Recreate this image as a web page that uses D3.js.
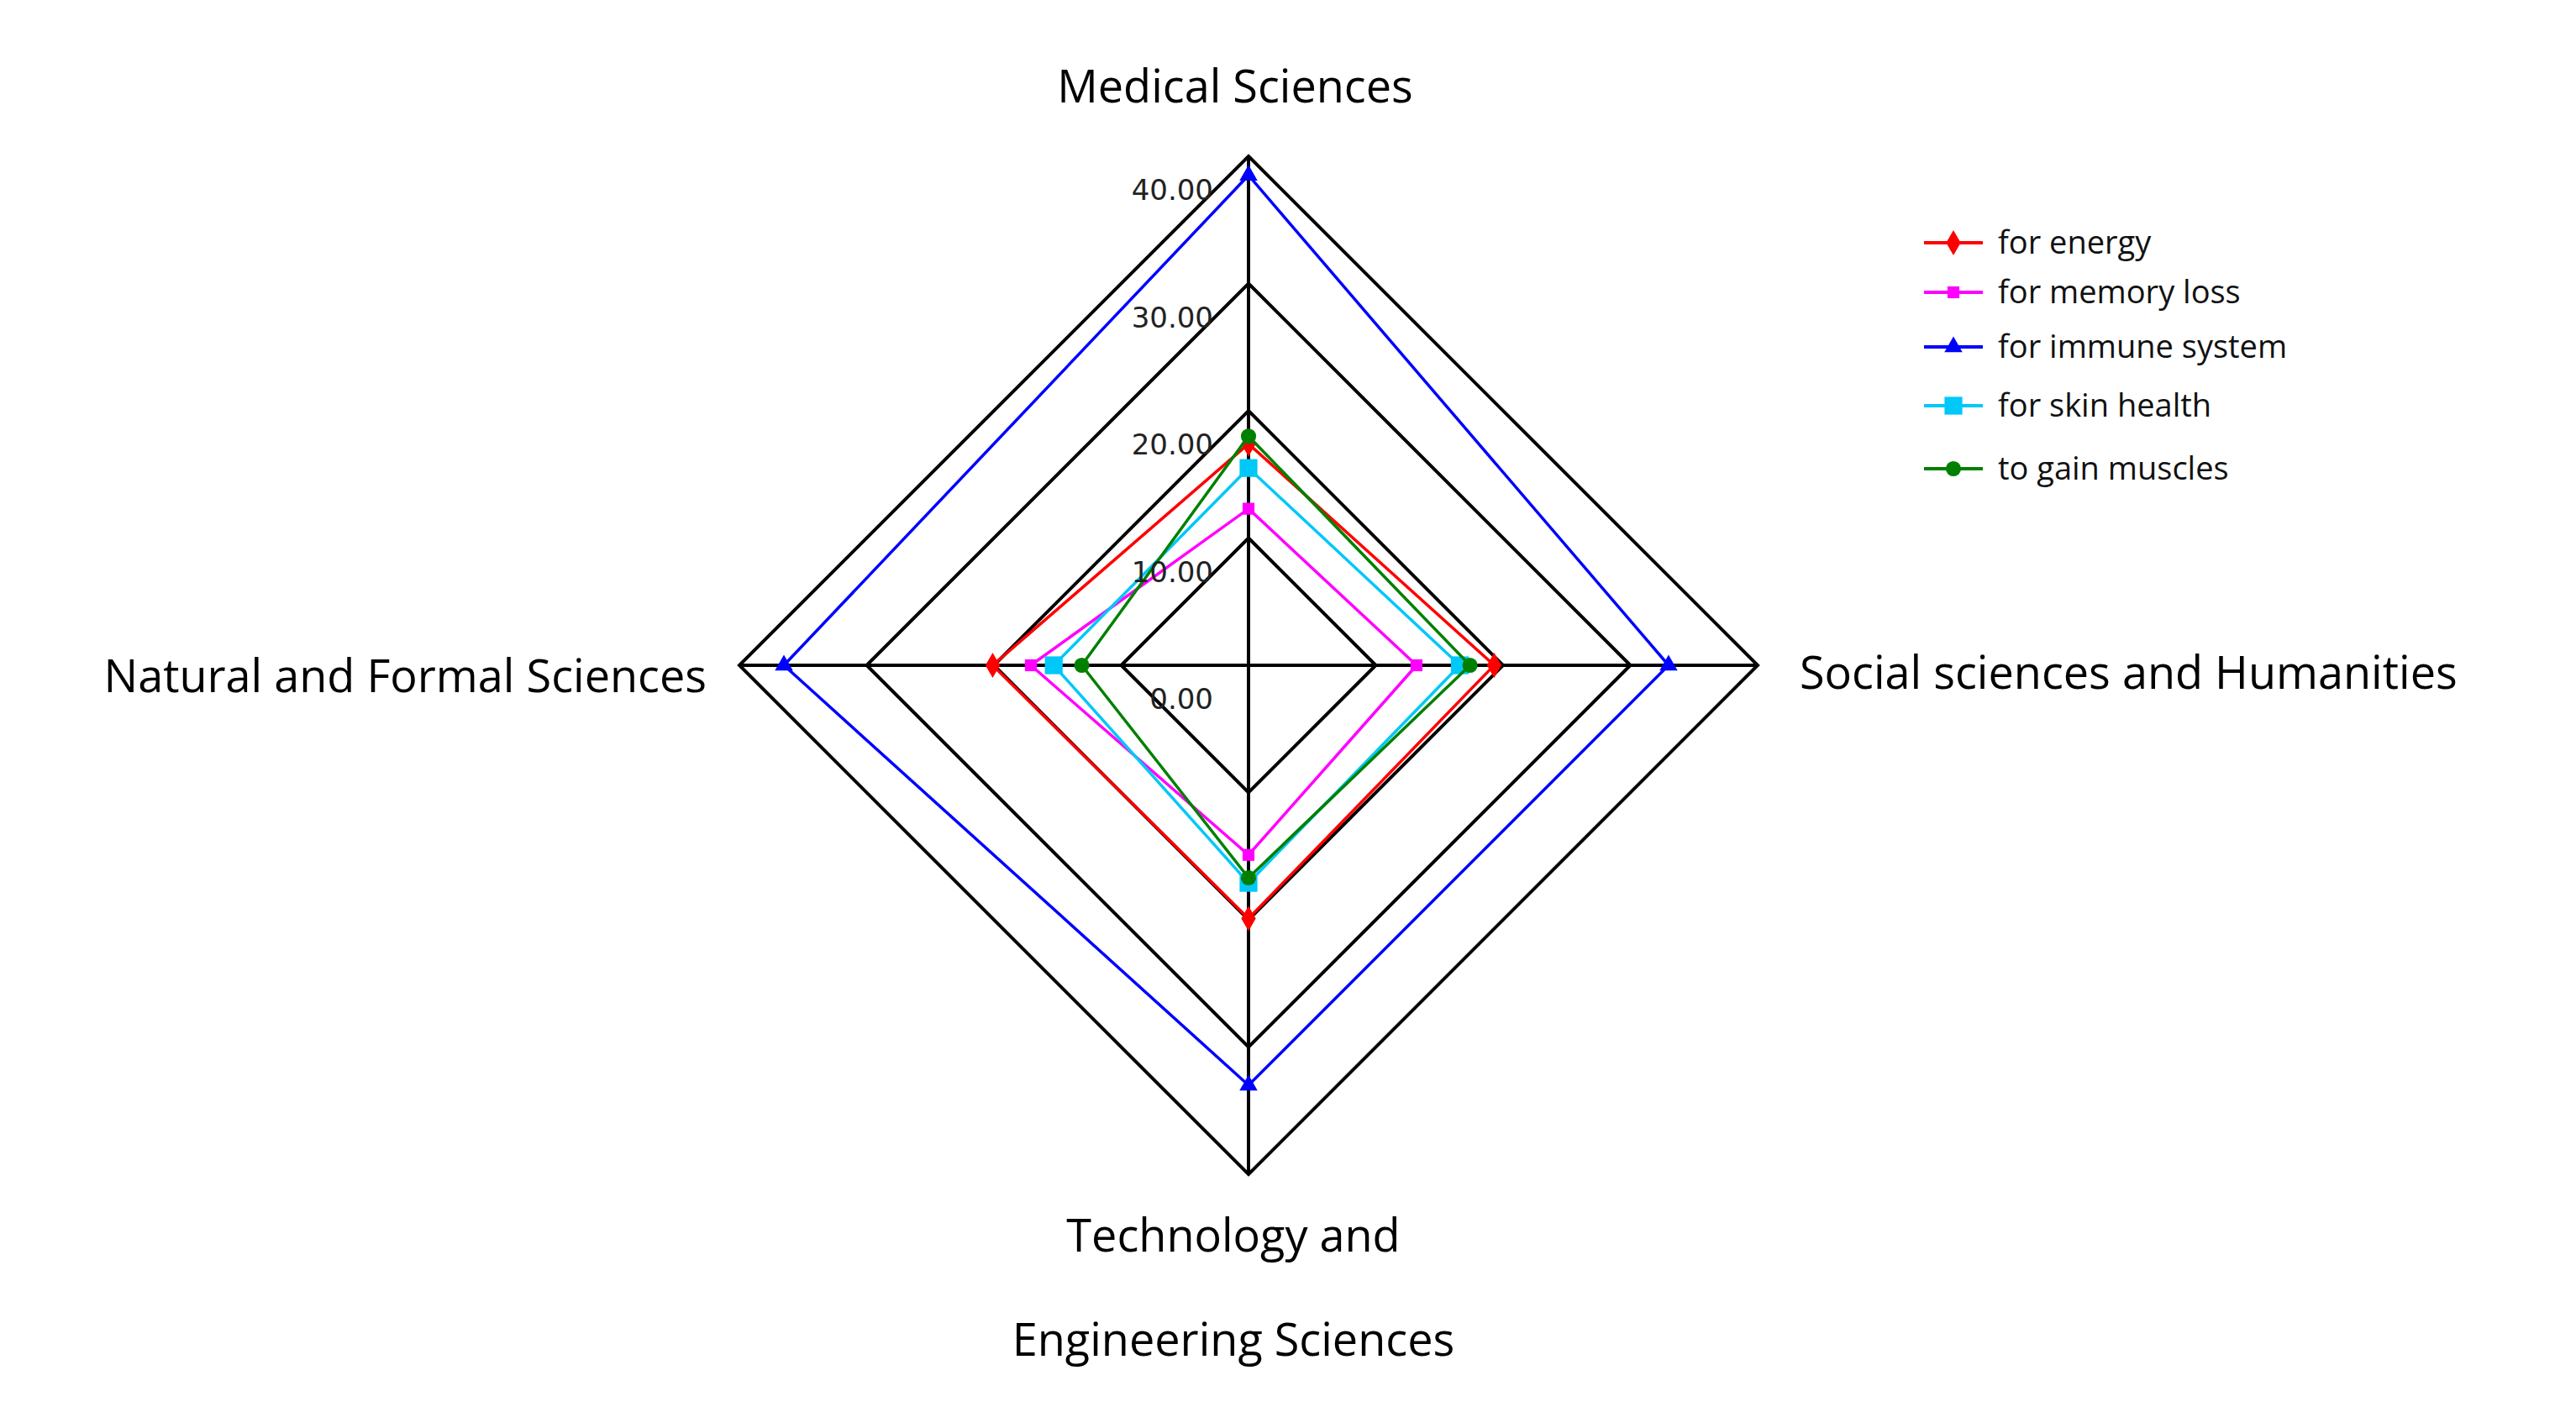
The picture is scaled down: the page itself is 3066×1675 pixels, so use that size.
<!DOCTYPE html>
<html>
<head>
<meta charset="utf-8">
<script src="https://cdn.jsdelivr.net/npm/d3@7"></script>
<style>
  body { margin: 0; background: #fff; }
</style>
</head>
<body>
<svg id="chart" width="3066" height="1675"></svg>
<script>
// axes, clockwise from the top
let axes = ["Medical Sciences", "Social sciences and Humanities", "Technology and Engineering Sciences", "Natural and Formal Sciences"];
let ticks = [0, 10, 20, 30, 40];

let seriesNames = ["for energy", "for memory loss", "for immune system", "for skin health", "to gain muscles"];
let forEnergy = [17.4, 19.3, 19.9, 20.1];
let forMemoryLoss = [12.3, 13.2, 14.9, 17.1];
let forImmuneSystem = [38.5, 33.0, 33.0, 36.5];
let forSkinHealth = [15.5, 16.6, 17.1, 15.3];
let toGainMuscles = [18.0, 17.4, 16.7, 13.1];

let seriesColours = ["#ff0000", "#ff00ff", "#0000ff", "#00c8f8", "#008000"];
let seriesSymbols = [d3.symbolDiamond, d3.symbolSquare, d3.symbolTriangle, d3.symbolSquare, d3.symbolCircle];
let symbolSizes = [260, 200, 200, 450, 260];

let series = [forEnergy, forMemoryLoss, forImmuneSystem, forSkinHealth, toGainMuscles];

let cx = 1486, cy = 792;
let svg = d3.select("#chart");
let g = svg.append("g").attr("transform", `translate(${cx},${cy})`);

let r = d3.scaleLinear().domain([0, 40]).range([0, 606]);
let angle = i => i * Math.PI / 2;  // 0 = up, clockwise
let pt = (v, i) => [Math.sin(angle(i)) * r(v), -Math.cos(angle(i)) * r(v)];

// grid rings
ticks.slice(1).forEach(t => {
    g.append("path")
        .attr("d", d3.line()(axes.map((a, i) => pt(t, i))) + "Z")
        .attr("fill", "none").attr("stroke", "#000").attr("stroke-width", 4);
});
// spokes
axes.forEach((a, i) => {
    let p = pt(40, i);
    g.append("line").attr("x1", 0).attr("y1", 0).attr("x2", p[0]).attr("y2", p[1])
        .attr("stroke", "#000").attr("stroke-width", 4);
});

// series
series.forEach((s, k) => {
    g.append("path")
        .attr("d", d3.line()(s.map((v, i) => pt(v, i))) + "Z")
        .attr("fill", "none").attr("stroke", seriesColours[k]).attr("stroke-width", 3.5);
    s.forEach((v, i) => {
        let p = pt(v, i);
        g.append("path")
            .attr("d", d3.symbol(seriesSymbols[k], symbolSizes[k])())
            .attr("transform", `translate(${p[0]},${p[1]})`)
            .attr("fill", seriesColours[k]);
    });
});

// tick labels
ticks.forEach(t => {
    g.append("text")
        .attr("x", -42).attr("y", -r(t) + 52)
        .attr("text-anchor", "end")
        .attr("font-family", "DejaVu Sans").attr("font-size", 34).attr("fill", "#222")
        .text(t.toFixed(2));
});

// category labels
let labelFont = "Open Sans";
svg.append("text").attr("x", 1470).attr("y", 122).attr("text-anchor", "middle")
    .attr("font-family", labelFont).attr("font-size", 54).text(axes[0]);
svg.append("text").attr("x", 2142).attr("y", 820).attr("text-anchor", "start")
    .attr("font-family", labelFont).attr("font-size", 54).text(axes[1]);
svg.append("text").attr("x", 841).attr("y", 824).attr("text-anchor", "end")
    .attr("font-family", labelFont).attr("font-size", 54).text(axes[3]);
let techParts = ["Technology and", "Engineering Sciences"];
techParts.forEach((t, i) => {
    svg.append("text").attr("x", 1468).attr("y", 1490 + i * 124).attr("text-anchor", "middle")
        .attr("font-family", labelFont).attr("font-size", 54).text(t);
});

// legend
let legendY = [289, 348, 413, 483, 558];
let legend = svg.append("g");
seriesNames.forEach((name, k) => {
    let y = legendY[k];
    legend.append("line").attr("x1", 2290).attr("x2", 2360).attr("y1", y).attr("y2", y)
        .attr("stroke", seriesColours[k]).attr("stroke-width", 4);
    legend.append("path")
        .attr("d", d3.symbol(seriesSymbols[k], symbolSizes[k])())
        .attr("transform", `translate(2325,${y})`).attr("fill", seriesColours[k]);
    legend.append("text").attr("x", 2378).attr("y", y + 13)
        .attr("font-family", labelFont).attr("font-size", 38).attr("fill", "#111").text(name);
});
</script>
</body>
</html>
